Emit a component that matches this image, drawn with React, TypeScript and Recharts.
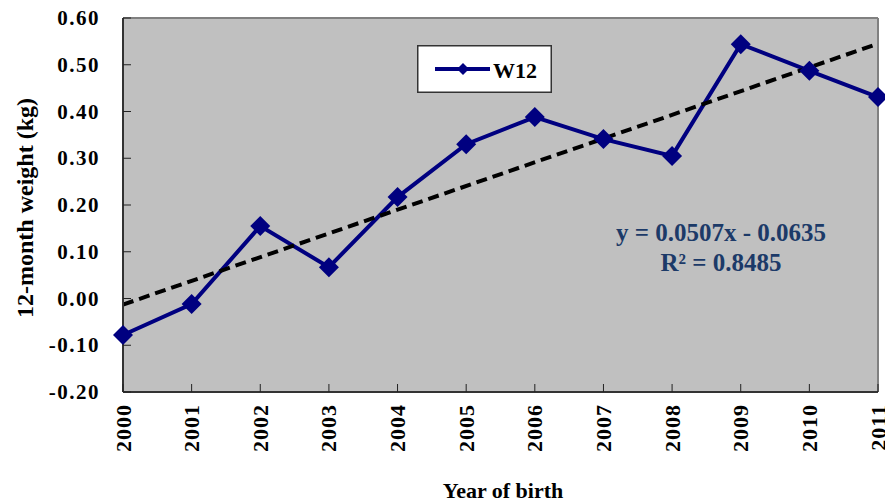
import React from 'react';
import { LineChart, Line, XAxis, YAxis, CartesianGrid, ReferenceLine, Legend, Customized } from 'recharts';

const years = ['2000', '2001', '2002', '2003', '2004', '2005', '2006', '2007', '2008', '2009', '2010', '2011'];
const w12 = [-0.078, -0.012, 0.155, 0.067, 0.217, 0.33, 0.388, 0.341, 0.305, 0.544, 0.487, 0.431];
// linear trend, only its two ends are needed
const trendStart = -0.013;
const trendEnd = 0.545;
const yTicks = [-0.2, -0.1, 0, 0.1, 0.2, 0.3, 0.4, 0.5, 0.6];

const FONT = '"Liberation Serif", "Times New Roman", serif';
const NAVY = '#000080';

const data = years.map((year, i) => ({
  year,
  w12: w12[i],
  trend: i === 0 ? trendStart : i === years.length - 1 ? trendEnd : null,
}));

const Diamond = (props: any) => {
  const { cx, cy } = props;
  if (cx == null || cy == null) return null;
  const r = 10;
  return <polygon points={`${cx},${cy - r} ${cx + r},${cy} ${cx},${cy + r} ${cx - r},${cy}`} fill={NAVY} />;
};

const XTick = (props: any) => {
  const { x, y, payload } = props;
  return (
    <g>
      <line x1={x} y1={y} x2={x} y2={y - 8} stroke="#222" strokeWidth={1} />
      <text
        x={x}
        y={y + 12}
        transform={`rotate(-90, ${x}, ${y + 12})`}
        textAnchor="end"
        dominantBaseline="central"
        fontFamily={FONT}
        fontWeight="bold"
        fontSize={22}
        letterSpacing={1}
        fill="#000"
      >
        {payload.value}
      </text>
    </g>
  );
};

const YTick = (props: any) => {
  const { x, y, payload } = props;
  return (
    <g>
      <line x1={x} y1={y} x2={x + 8} y2={y} stroke="#222" strokeWidth={1} />
      <text
        x={x - 23}
        y={y}
        textAnchor="end"
        dominantBaseline="central"
        fontFamily={FONT}
        fontWeight="bold"
        fontSize={21}
        letterSpacing={1.5}
        fill="#000"
      >
        {Number(payload.value).toFixed(2)}
      </text>
    </g>
  );
};

const LegendBox = () => (
  <svg width={135} height={48} style={{ display: 'block' }}>
    <rect x={0.75} y={0.75} width={133.5} height={46.5} fill="#fff" stroke="#333" strokeWidth={1.5} />
    <line x1={18} y1={24} x2={73} y2={24} stroke={NAVY} strokeWidth={4} />
    <polygon points="46,18 52,24 46,30 40,24" fill={NAVY} />
    <text x={76} y={25} dominantBaseline="central" fontFamily={FONT} fontWeight="bold" fontSize={22} fill="#000">
      W12
    </text>
  </svg>
);

const Texts = () => (
  <g fontFamily={FONT} fontWeight="bold">
    <text
      x={25}
      y={208}
      transform="rotate(-90, 25, 208)"
      textAnchor="middle"
      dominantBaseline="central"
      fontSize={24}
      fill="#000"
    >
      12-month weight (kg)
    </text>
    <text x={503} y={498} textAnchor="middle" fontSize={22} fill="#000">
      Year of birth
    </text>
    <text x={721} y={241} textAnchor="middle" fontSize={25} fill="#1C3A68">
      y = 0.0507x - 0.0635
    </text>
    <text x={721} y={271} textAnchor="middle" fontSize={25} fill="#1C3A68">
      R² = 0.8485
    </text>
  </g>
);

export default function App() {
  return (
    <div style={{ position: 'absolute', left: 0, top: 0, width: 885, height: 501, background: '#fff' }}>
      <LineChart width={885} height={501} data={data} margin={{ top: 18, right: 7, left: 0, bottom: 0 }}>
        <CartesianGrid horizontal={false} vertical={false} fill="#C0C0C0" fillOpacity={1} />
        <ReferenceLine y={0.6} stroke="#808080" strokeWidth={2} />
        <ReferenceLine x="2011" stroke="#808080" strokeWidth={2} />
        <XAxis
          dataKey="year"
          height={109}
          tickSize={0}
          tickMargin={0}
          tickLine={false}
          interval={0}
          tick={<XTick />}
          axisLine={{ stroke: '#333', strokeWidth: 2 }}
        />
        <YAxis
          type="number"
          domain={[-0.2, 0.6]}
          ticks={yTicks}
          width={123}
          tickSize={0}
          tickMargin={0}
          tickLine={false}
          interval={0}
          tick={<YTick />}
          axisLine={{ stroke: '#333', strokeWidth: 2 }}
        />
        <Line
          dataKey="w12"
          name="W12"
          stroke={NAVY}
          strokeWidth={4}
          dot={<Diamond />}
          activeDot={false}
          isAnimationActive={false}
        />
        <Line
          dataKey="trend"
          stroke="#000"
          strokeWidth={4}
          strokeDasharray="11 6"
          dot={false}
          activeDot={false}
          connectNulls
          legendType="none"
          isAnimationActive={false}
        />
        <Legend
          layout="horizontal"
          verticalAlign="middle"
          align="center"
          content={<LegendBox />}
          wrapperStyle={{ left: 417, top: 45, width: 135, height: 48 }}
        />
        <Customized component={<Texts />} />
      </LineChart>
    </div>
  );
}
